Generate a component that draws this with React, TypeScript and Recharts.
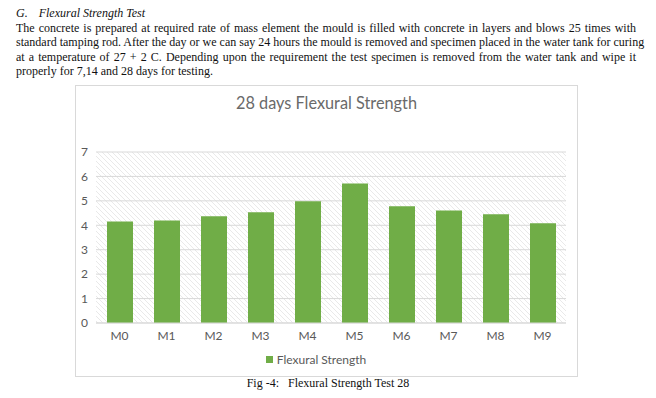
import { BarChart, Bar, XAxis, YAxis, CartesianGrid, Legend } from 'recharts';

const mixes = ['M0', 'M1', 'M2', 'M3', 'M4', 'M5', 'M6', 'M7', 'M8', 'M9'];
const flexural = [4.16, 4.2, 4.37, 4.53, 4.98, 5.71, 4.78, 4.61, 4.45, 4.08];
const yTicks = [0, 1, 2, 3, 4, 5, 6, 7];

const paragraphLines = [
  'The concrete is prepared at required rate of mass element the mould is filled with concrete in layers and blows 25 times with',
  'standard tamping rod. After the day or we can say 24 hours the mould is removed and specimen placed in the water tank for curing',
  'at a temperature of 27 + 2 C. Depending upon the requirement the test specimen is removed from the water tank and wipe it',
  'properly for 7,14 and 28 days for testing.',
];

const chartFont = 'Lato, "Open Sans", sans-serif';
const grey = '#595959';

export default function App() {
  const data = mixes.map((m, i) => ({ name: m, value: flexural[i] }));

  return (
    <div
      style={{
        position: 'absolute',
        left: 0,
        top: 0,
        width: 656,
        height: 398,
        background: '#fff',
        fontFamily: '"Liberation Serif", "Times New Roman", serif',
        color: '#111',
      }}
    >
      {/* section heading + paragraph */}
      <div style={{ position: 'absolute', left: 16, top: 6, width: 620, fontSize: 12, lineHeight: '14.6px' }}>
        <div style={{ fontStyle: 'italic' }}>
          <span>G.</span>
          <span style={{ marginLeft: 11 }}>Flexural Strength Test</span>
        </div>
        {paragraphLines.map((line, i) => (
          <div
            key={i}
            style={{
              textAlign: 'justify',
              textAlignLast: i < paragraphLines.length - 1 ? 'justify' : 'left',
              whiteSpace: 'nowrap',
            }}
          >
            {line}
          </div>
        ))}
      </div>

      {/* chart frame */}
      <div
        style={{
          position: 'absolute',
          left: 75,
          top: 85,
          width: 501,
          height: 290,
          border: '1px solid #d9d9d9',
          fontFamily: chartFont,
        }}
      >
        <div
          style={{
            position: 'absolute',
            left: 0,
            width: 501,
            top: 5,
            textAlign: 'center',
            fontSize: 16.3,
            color: '#6a6a6a',
            lineHeight: '24px',
          }}
        >
          28 days Flexural Strength
        </div>
        <BarChart
          width={501}
          height={290}
          data={data}
          margin={{ top: 66, right: 11, left: 0, bottom: 6 }}
        >
          <defs>
            <pattern id="hatch" patternUnits="userSpaceOnUse" width={5} height={5}>
              <rect width={5} height={5} fill="#ffffff" />
              <path d="M-1,-1 L6,6 M-1,4 L1,6 M4,-1 L6,1" stroke="#e3e3e3" strokeWidth={0.8} />
            </pattern>
          </defs>
          <CartesianGrid vertical={false} stroke="#d9d9d9" fill="url(#hatch)" fillOpacity={1} />
          <XAxis
            dataKey="name"
            height={25}
            axisLine={{ stroke: '#d9d9d9' }}
            tickLine={false}
            tick={{ fill: grey, fontSize: 12 }}
          />
          <YAxis
            width={20}
            domain={[0, 7]}
            ticks={yTicks}
            axisLine={false}
            tickLine={false}
            tick={{ fill: grey, fontSize: 12 }}
          />
          <Legend
            verticalAlign="bottom"
            height={22}
            iconType="square"
            iconSize={7}
            formatter={(v) => <span style={{ color: grey, fontSize: 12 }}>{v}</span>}
          />
          <Bar dataKey="value" name="Flexural Strength" fill="#70ad47" barSize={26} isAnimationActive={false} />
        </BarChart>
      </div>

      {/* caption */}
      <div
        style={{
          position: 'absolute',
          left: 0,
          width: 656,
          top: 376,
          textAlign: 'center',
          fontSize: 12,
          lineHeight: '14px',
          whiteSpace: 'pre',
        }}
      >
        {'Fig -4:   Flexural Strength Test 28'}
      </div>
    </div>
  );
}
